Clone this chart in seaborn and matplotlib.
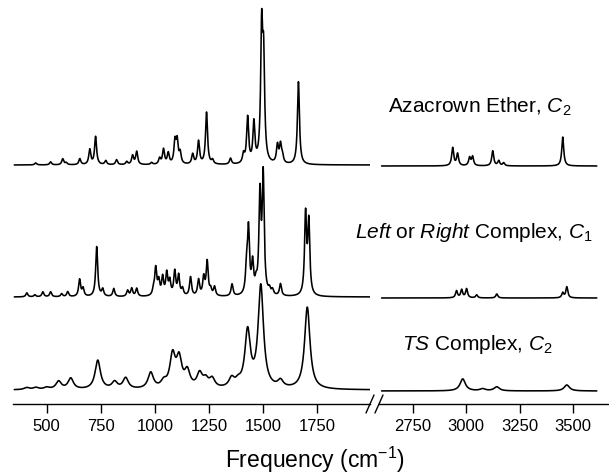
import numpy as np
import matplotlib
matplotlib.use("Agg")
import matplotlib.pyplot as plt
from matplotlib.lines import Line2D
import seaborn as sns

# ---------------------------------------------------------
# peak lists (cm-1, relative intensity)
# ---------------------------------------------------------
az_pos = [449, 518, 574, 590, 653, 699, 726, 773, 823, 870, 897, 916, 985, 1022,
          1040, 1062, 1093, 1103, 1117, 1175, 1202, 1239, 1267, 1350, 1410, 1429,
          1458, 1494, 1503, 1567, 1581, 1590, 1664,
          2937, 2960, 3016, 3030, 3124, 3152, 3175, 3451]
az_amp = [2, 3, 6, 2, 6, 15, 28, 4, 5, 3, 9, 13, 2, 6,
          15, 11, 22, 22, 11, 10, 23, 52, 4, 6, 9, 46,
          40, 128, 95, 18, 18, 7, 83,
          18, 12, 8, 9, 15, 5, 3, 29]

lr_pos = [408, 445, 482, 518, 569, 597, 652, 668, 731, 759, 810, 874, 893, 916,
          994, 1004, 1018, 1036, 1055, 1069, 1092, 1110, 1128, 1165, 1202, 1226,
          1242, 1258, 1276, 1357, 1424, 1433, 1452, 1468, 1486, 1501, 1530, 1544,
          1581, 1697, 1712,
          2955, 2979, 3002, 3049, 3143, 3451, 3470]
lr_amp = [4, 2, 5, 5, 3, 5, 17, 8, 50, 7, 8, 6, 8, 8,
          6, 27, 14, 18, 22, 14, 24, 20, 7, 19, 16, 18,
          34, 6, 9, 12, 24, 64, 30, 9, 97, 117, 5, 5,
          12, 80, 72,
          7, 8, 9, 3, 4, 5, 11]

ts_pos = [408, 450, 500, 555, 611, 736, 814, 865, 981, 1041, 1082, 1112, 1150,
          1207, 1235, 1265, 1355, 1385, 1429, 1490, 1581, 1705,
          2984, 3077, 3143, 3470]
ts_amp = [2, 2, 2, 8, 11, 29, 7, 11, 16, 6, 32, 28, 16,
          14, 8, 9, 9, 5, 56, 102, 7, 82,
          12, 2, 4, 6]

labels = ["Azacrown Ether, $C_2$",
          "$\\mathit{Left}$ or $\\mathit{Right}$ Complex, $C_1$",
          "$\\mathit{TS}$ Complex, $C_2$"]
offsets = [239, 107, 14]
widths = [11, 11, 30]

left_ticks = [500, 750, 1000, 1250, 1500, 1750]
right_ticks = [2750, 3000, 3250, 3500]

sns.set_theme(style="ticks")
plt.rcParams['font.family'] = ['Liberation Sans', 'DejaVu Sans']
plt.rcParams['text.color'] = 'black'
plt.rcParams['mathtext.fontset'] = 'custom'
plt.rcParams['mathtext.rm'] = 'Liberation Sans'
plt.rcParams['mathtext.it'] = 'Liberation Sans:italic'
plt.rcParams['mathtext.bf'] = 'Liberation Sans:bold'


def spectrum(freq, pos, amp, w):
    hw = w / 2.0
    out = np.zeros_like(freq)
    for p, a in zip(pos, amp):
        out += a * hw ** 2 / ((freq - p) ** 2 + hw ** 2)
    return out


W, H = 609, 475
fig = plt.figure(figsize=(W / 100, H / 100), dpi=100)
ax1 = fig.add_axes([13 / W, 71 / H, (370 - 13) / W, 404 / H])
ax2 = fig.add_axes([379 / W, 71 / H, (609 - 379) / W, 404 / H])

f_left = np.linspace(350, 1995, 3000)
f_right = np.linspace(2605, 3610, 1800)

for pos, amp, off, w in zip([az_pos, lr_pos, ts_pos], [az_amp, lr_amp, ts_amp], offsets, widths):
    sns.lineplot(x=f_left, y=spectrum(f_left, pos, amp, w) + off, ax=ax1,
                 color='black', lw=1.15, estimator=None)
    sns.lineplot(x=f_right, y=spectrum(f_right, pos, amp, w) + off - 1, ax=ax2,
                 color='black', lw=1.15, estimator=None)

ax1.set_xlim(344, 1995)
ax2.set_xlim(2593, 3667)
for ax, ticks in [(ax1, left_ticks), (ax2, right_ticks)]:
    ax.set_ylim(0, 404)
    ax.set_xticks(ticks)
    ax.set_yticks([])
    ax.set_xlabel('')
    ax.set_ylabel('')
    for side in ['top', 'right', 'left']:
        ax.spines[side].set_visible(False)
    ax.spines['bottom'].set_linewidth(1.0)
    ax.spines['bottom'].set_color('black')
    ax.tick_params(axis='x', direction='out', length=6.5, width=1.0, colors='black',
                   labelsize=12, pad=4)
    ax.patch.set_alpha(0)

# axis break marks
for x0 in [366, 375]:
    fig.add_artist(Line2D([x0 / W, (x0 + 8) / W], [1 - 413 / H, 1 - 395 / H],
                          color='black', lw=1.0))

# spectrum labels
for txt, (x, y) in zip(labels, [(480, 113), (474, 238), (477, 350)]):
    fig.text(x / W, 1 - y / H, txt, ha='center', va='baseline', fontsize=15,
             color='black')

fig.text(315 / W, 1 - 468 / H, 'Frequency (cm$^{-1}$)', ha='center', va='baseline',
         fontsize=16.5, color='black')

fig.savefig('out.png', dpi=100)
